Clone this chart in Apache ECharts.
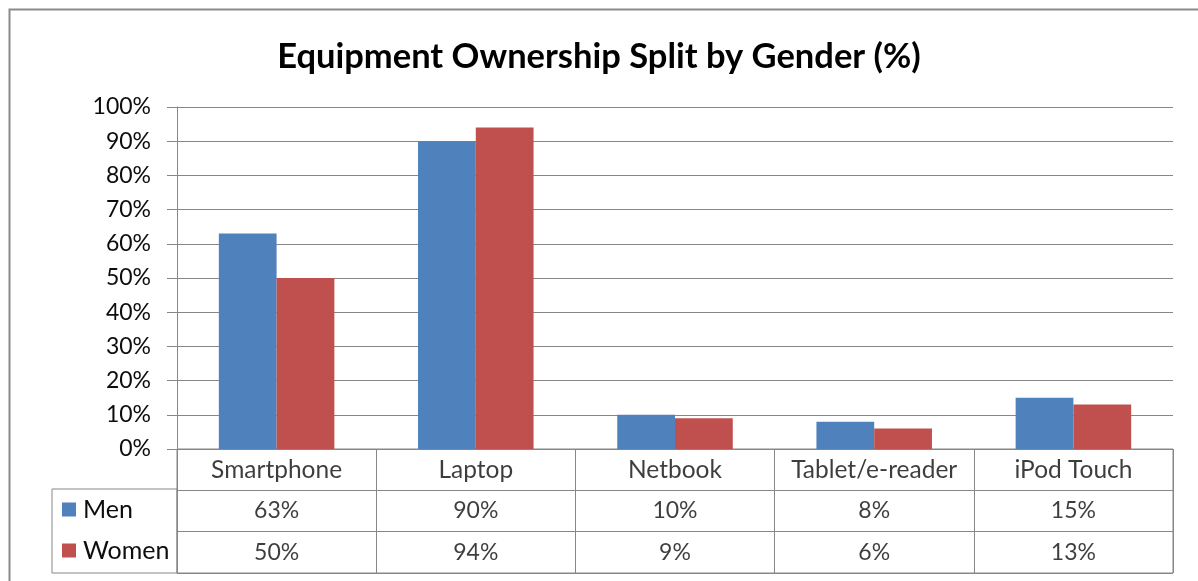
<!DOCTYPE html>
<html>
<head>
<meta charset="utf-8">
<script src="https://cdn.jsdelivr.net/npm/echarts@6/dist/echarts.min.js"></script>
<style>
  html, body { margin: 0; padding: 0; background: #fff; }
  #chart { width: 1198px; height: 581px; }
</style>
</head>
<body>
<div id="chart"></div>
<script>
// data
var categories = ['Smartphone', 'Laptop', 'Netbook', 'Tablet/e-reader', 'iPod Touch'];
var men = [63, 90, 10, 8, 15];
var women = [50, 94, 9, 6, 13];
var rows = ['', 'Men', 'Women'];

var FONT = 'Lato, "Open Sans", sans-serif';
var GRID_COLOR = '#878787';
var TEXT = '#0d0d0d';

// table cells: header row + one row per series
function table_cells() {
  var cells = [];
  categories.forEach(function (c, i) {
    cells.push([c, rows[0], '{h|' + c + '}']);
    cells.push([c, rows[1], men[i] + '%']);
    cells.push([c, rows[2], women[i] + '%']);
  });
  return cells;
}

var myChart = echarts.init(document.getElementById('chart'));

var option = {
  backgroundColor: '#fff',
  animation: false,
  title: {
    text: 'Equipment Ownership Split by Gender (%)',
    left: 'center',
    top: 34,
    padding: [5, 0, 5, 16],
    textStyle: { fontFamily: FONT, fontSize: 34.5, fontWeight: 'bold', color: '#000' }
  },
  graphic: [{
    type: 'rect',
    left: 7, top: 7,
    shape: { width: 1400, height: 800 },
    style: { fill: 'none', stroke: '#8a8a8a', lineWidth: 2 },
    silent: true
  }],
  legend: {
    data: ['Men', 'Women'],
    orient: 'vertical',
    left: 62,
    top: 497,
    padding: 0,
    itemWidth: 14,
    itemHeight: 14,
    itemGap: 16,
    icon: 'rect',
    textStyle: { fontFamily: FONT, fontSize: 25, color: TEXT, padding: [0, 0, 0, 2] }
  },
  grid: [
    { left: 177, right: 25, top: 107, height: 342 },
    { left: 177, right: 25, top: 449, height: 124, show: true, borderColor: GRID_COLOR, borderWidth: 1 },
    { left: 52, width: 125, top: 489, height: 84, show: true, borderColor: GRID_COLOR, borderWidth: 1 }
  ],
  xAxis: [
    {
      type: 'category', gridIndex: 0, data: categories,
      axisLine: { show: true, lineStyle: { color: GRID_COLOR } },
      axisTick: { show: false },
      axisLabel: { show: false }
    },
    {
      type: 'category', gridIndex: 1, data: categories,
      axisLine: { show: false },
      axisTick: { show: false },
      axisLabel: { show: false },
      splitLine: { show: true, lineStyle: { color: GRID_COLOR } }
    }
  ],
  yAxis: [
    {
      type: 'value', gridIndex: 0, min: 0, max: 100, interval: 10,
      axisLine: { show: true, lineStyle: { color: GRID_COLOR } },
      axisTick: { show: true, length: 10, lineStyle: { color: GRID_COLOR } },
      axisLabel: { formatter: '{value}%', margin: 26, fontFamily: FONT, fontSize: 23, color: TEXT },
      splitLine: { show: true, lineStyle: { color: GRID_COLOR } }
    },
    {
      type: 'category', gridIndex: 1, data: rows, inverse: true,
      axisLine: { show: false },
      axisTick: { show: false },
      axisLabel: { show: false },
      splitLine: { show: true, lineStyle: { color: GRID_COLOR } }
    }
  ],
  series: [
    {
      name: 'Men', type: 'bar', xAxisIndex: 0, yAxisIndex: 0,
      data: men, barGap: '0%', barCategoryGap: '42%',
      itemStyle: { color: '#4F81BD' }
    },
    {
      name: 'Women', type: 'bar', xAxisIndex: 0, yAxisIndex: 0,
      data: women,
      itemStyle: { color: '#C0504D' }
    },
    {
      name: 'table', type: 'scatter', xAxisIndex: 1, yAxisIndex: 1,
      data: table_cells(),
      symbolSize: 1,
      itemStyle: { color: 'transparent' },
      silent: true,
      label: {
        show: true, position: 'inside',
        formatter: function (p) { return p.value[2]; },
        fontFamily: FONT, fontSize: 23, color: TEXT,
        rich: { h: { fontFamily: FONT, fontSize: 24.5, color: TEXT } }
      }
    }
  ]
};

myChart.setOption(option);
</script>
</body>
</html>
